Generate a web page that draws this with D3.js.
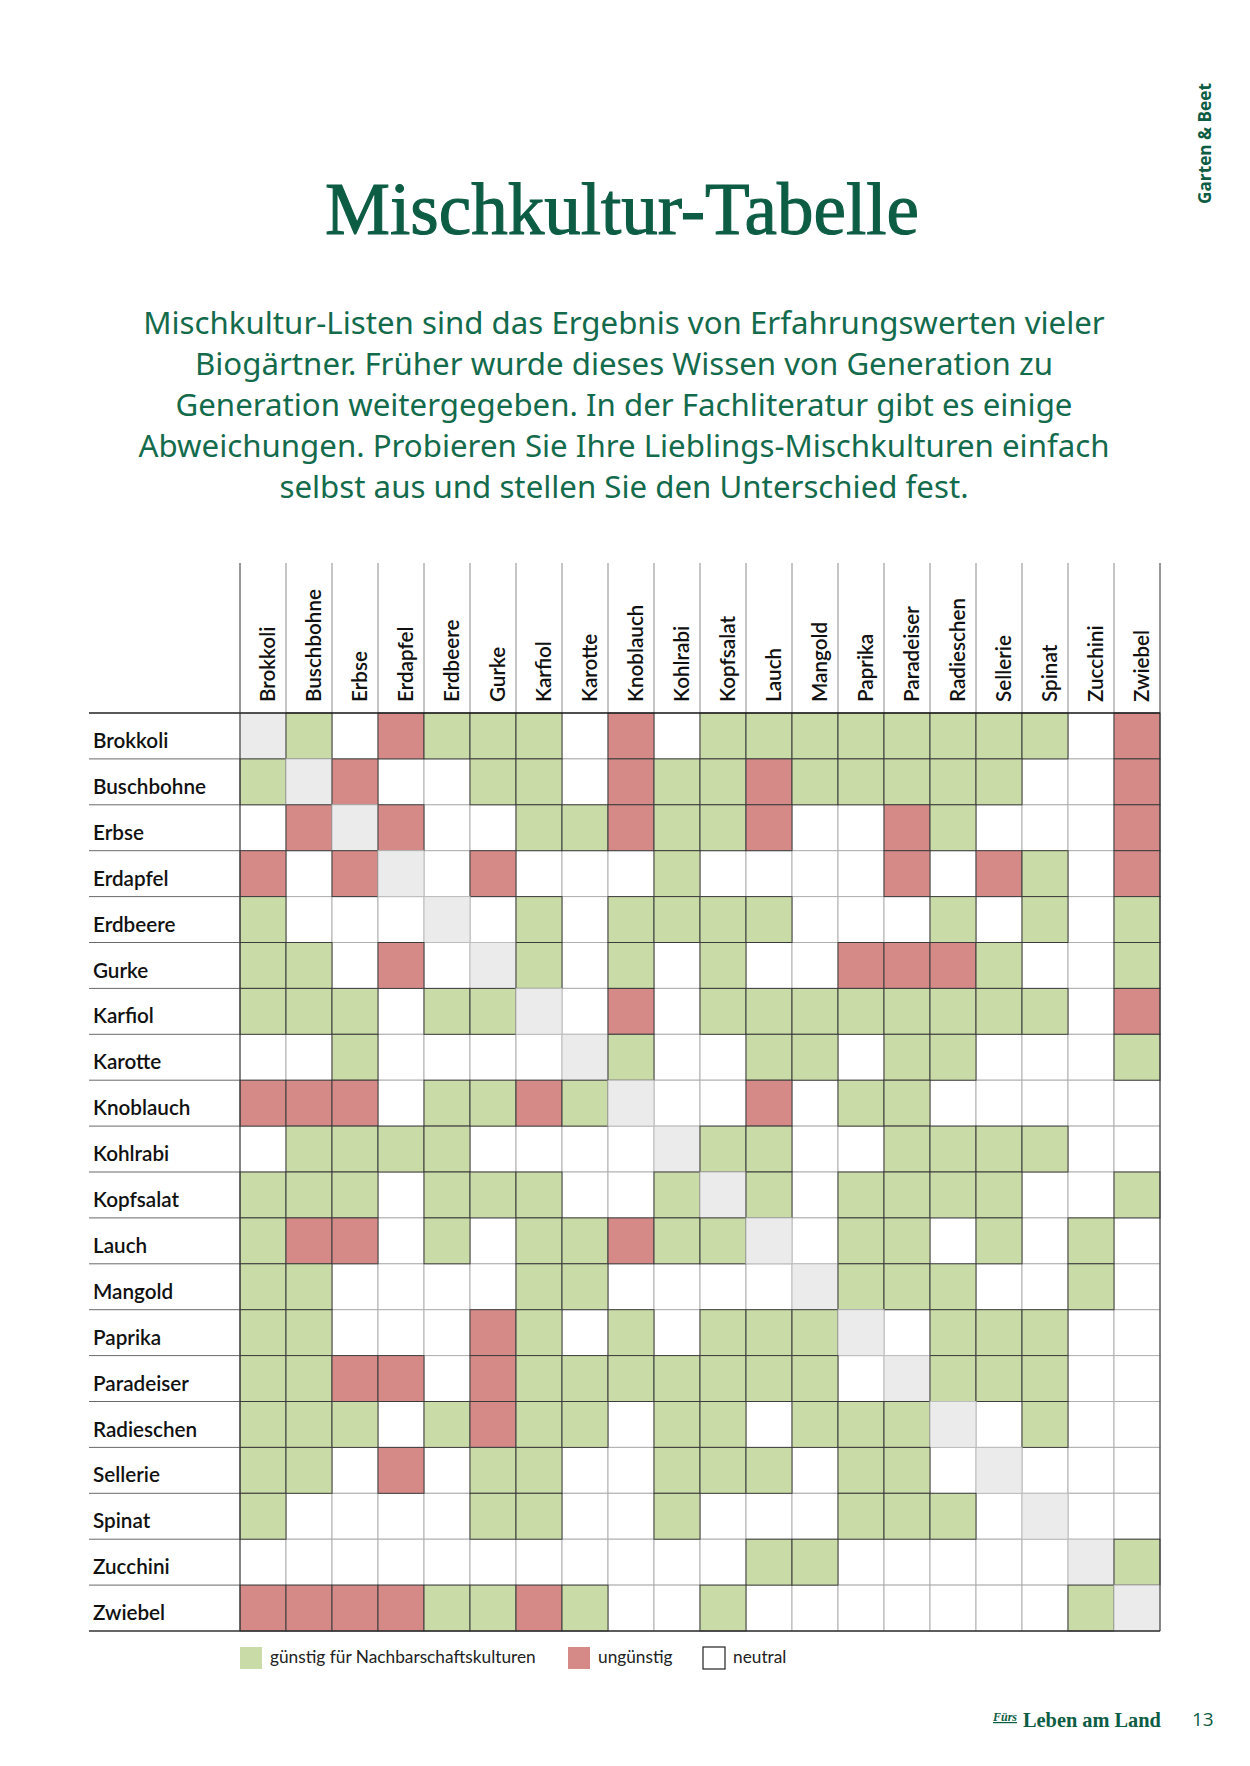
<!DOCTYPE html>
<html>
<head>
<meta charset="utf-8">
<script src="https://cdn.jsdelivr.net/npm/d3@7"></script>
<style>
  html, body { margin: 0; padding: 0; background: #ffffff; }
  svg { display: block; }
</style>
</head>
<body>
<svg id="chart" width="1250" height="1766"></svg>
<script>
// ---------- DATA ----------
const plants = ["Brokkoli","Buschbohne","Erbse","Erdapfel","Erdbeere","Gurke","Karfiol","Karotte","Knoblauch","Kohlrabi","Kopfsalat","Lauch","Mangold","Paprika","Paradeiser","Radieschen","Sellerie","Spinat","Zucchini","Zwiebel"];
// g = günstig, r = ungünstig, n = neutral, d = same plant (diagonal)
const relations = [
  "dgnrgggnrnggggggggnr", // Brokkoli
  "gdrnnggnrggrgggggnnr", // Buschbohne
  "nrdrnnggrggrnnrgnnnr", // Erbse
  "rnrdnrnnngnnnnrnrgnr", // Erdapfel
  "gnnndngnggggnnngngng", // Erdbeere
  "ggnrndgngngnnrrrgnng", // Gurke
  "gggnggdnrnggggggggnr", // Karfiol
  "nngnnnndgnnggnggnnng", // Karotte
  "rrrnggrgdnnrnggnnnnn", // Knoblauch
  "nggggnnnndggnnggggnn", // Kohlrabi
  "gggngggnngdgnggggnng", // Kopfsalat
  "grrngnggrggdnggngngn", // Lauch
  "ggnnnnggnnnndgggnngn", // Mangold
  "ggnnnrgngngggdngggnn", // Paprika
  "ggrrnrgggggggndgggnn", // Paradeiser
  "gggngrggnggngggdngnn", // Radieschen
  "ggnrnggnngggnggndnnn", // Sellerie
  "gnnnnggnngnnngggndnn", // Spinat
  "nnnnnnnnnnnggnnnnndg", // Zucchini
  "rrrrggrgnngnnnnnnngd"  // Zwiebel
];
const legendKeys = ["g","r","n"];
const legendLabels = ["günstig für Nachbarschaftskulturen","ungünstig","neutral"];
const titleText = "Mischkultur-Tabelle";
const introLines = [
  "Mischkultur-Listen sind das Ergebnis von Erfahrungswerten vieler",
  "Biogärtner. Früher wurde dieses Wissen von Generation zu",
  "Generation weitergegeben. In der Fachliteratur gibt es einige",
  "Abweichungen. Probieren Sie Ihre Lieblings-Mischkulturen einfach",
  "selbst aus und stellen Sie den Unterschied fest."
];
const sideLabel = "Garten & Beet";
const footerSmall = "Fürs";
const footerBrand = "Leben am Land";
const pageNumber = "13";

// ---------- STYLE ----------
const GREEN_TXT = "#0d5c44";
const fillOf = {g: "#c9dba6", r: "#d68a87", n: "#ffffff", d: "#ebebeb"};
const SANS = "Lato, 'Noto Sans', sans-serif";
const SERIF = "'Liberation Serif', 'DejaVu Serif', serif";

const svg = d3.select("#chart");

function fitWidth(sel, target) {
  const w = sel.node().getComputedTextLength();
  const fs = parseFloat(sel.attr("font-size"));
  sel.attr("font-size", (fs * target / w).toFixed(2));
  return fs * target / w;
}

// ---------- Title ----------
const title = svg.append("text")
  .attr("x", 622).attr("y", 234)
  .attr("text-anchor", "middle")
  .attr("font-family", SERIF)
  .attr("font-size", 70)
  .attr("fill", GREEN_TXT)
  .attr("stroke", GREEN_TXT).attr("stroke-width", 1.1)
  .text(titleText);
fitWidth(title, 594);

// ---------- Intro ----------
const introBase = [334, 375, 416, 457, 498];
let introSize = 30;
introLines.forEach((line, i) => {
  const t = svg.append("text")
    .attr("x", 624).attr("y", introBase[i])
    .attr("text-anchor", "middle")
    .attr("font-family", "'Noto Sans', sans-serif")
    .attr("font-size", introSize)
    .attr("fill", "#136b4c")
    .text(line);
  if (i === 0) introSize = fitWidth(t, 962);
});

// ---------- Side label ----------
const side = svg.append("text")
  .attr("transform", "translate(1211,204) rotate(-90)")
  .attr("font-family", "'Open Sans', sans-serif")
  .attr("font-weight", 700)
  .attr("font-size", 15)
  .attr("fill", GREEN_TXT)
  .text(sideLabel);
fitWidth(side, 121);

// ---------- Grid ----------
const x = d3.scaleBand().domain(plants).range([240, 1160]);
const y = d3.scaleBand().domain(plants).range([713, 1631]);
const bw = x.bandwidth(), bh = y.bandwidth();

const cells = [];
relations.forEach((row, ri) => {
  row.split("").forEach((c, ci) => cells.push({row: plants[ri], col: plants[ci], v: c}));
});

// header vertical lines
const gHead = svg.append("g");
gHead.selectAll("line.v")
  .data(plants.concat(["__end"]))
  .join("line")
  .attr("x1", (d, i) => i < plants.length ? x(d) : x.range()[1])
  .attr("x2", (d, i) => i < plants.length ? x(d) : x.range()[1])
  .attr("y1", 563).attr("y2", 713)
  .attr("stroke", (d, i) => (i === 0 || i === plants.length) ? "#333" : "#8a8a8a")
  .attr("stroke-width", 1);

// white cells first (light borders), then colored cells (dark borders)
const gCells = svg.append("g");
gCells.selectAll("rect.n")
  .data(cells.filter(d => d.v === "n"))
  .join("rect")
  .attr("x", d => x(d.col)).attr("y", d => y(d.row))
  .attr("width", bw).attr("height", bh)
  .attr("fill", fillOf.n)
  .attr("stroke", "#b0b0b0").attr("stroke-width", 1);
gCells.selectAll("rect.c")
  .data(cells.filter(d => d.v !== "n"))
  .join("rect")
  .attr("x", d => x(d.col)).attr("y", d => y(d.row))
  .attr("width", bw).attr("height", bh)
  .attr("fill", d => fillOf[d.v])
  .attr("stroke", d => d.v === "d" ? "#bdbdbd" : "#3c3c3c")
  .attr("stroke-width", 1);

// row separators across the label column
svg.append("g").selectAll("line")
  .data(plants.slice(1))
  .join("line")
  .attr("x1", 89).attr("x2", 240)
  .attr("y1", d => y(d)).attr("y2", d => y(d))
  .attr("stroke", "#6a6a6a").attr("stroke-width", 1);
// top and bottom rules
svg.append("line").attr("x1", 89).attr("x2", 1160).attr("y1", 713).attr("y2", 713)
  .attr("stroke", "#222").attr("stroke-width", 1.3);
svg.append("line").attr("x1", 89).attr("x2", 1160).attr("y1", 1631).attr("y2", 1631)
  .attr("stroke", "#333").attr("stroke-width", 1.3);
// left & right grid borders
svg.append("line").attr("x1", 240).attr("x2", 240).attr("y1", 713).attr("y2", 1631)
  .attr("stroke", "#333").attr("stroke-width", 1);
svg.append("line").attr("x1", 1160).attr("x2", 1160).attr("y1", 713).attr("y2", 1631)
  .attr("stroke", "#333").attr("stroke-width", 1);

// row labels
const rowLabels = svg.append("g").selectAll("text")
  .data(plants)
  .join("text")
  .attr("x", 93)
  .attr("y", d => y(d) + 35)
  .attr("font-family", SANS)
  .attr("font-weight", 600)
  .attr("font-size", 18)
  .attr("fill", "#111")
  .text(d => d);
const refW = rowLabels.filter(d => d === "Buschbohne").node().getComputedTextLength();
const labelSize = 18 * 113 / refW;
rowLabels.attr("font-size", labelSize.toFixed(2));

// column labels
svg.append("g").selectAll("text")
  .data(plants)
  .join("text")
  .attr("transform", d => `translate(${x(d) + 35},702) rotate(-90)`)
  .attr("font-family", SANS)
  .attr("font-weight", 600)
  .attr("font-size", labelSize.toFixed(2))
  .attr("fill", "#111")
  .text(d => d);

// ---------- Legend ----------
const legendX = [240, 568, 703];
const gLeg = svg.append("g");
let legendSize = 16;
legendKeys.forEach((k, i) => {
  gLeg.append("rect")
    .attr("x", legendX[i]).attr("y", 1647)
    .attr("width", 22).attr("height", 22)
    .attr("fill", fillOf[k])
    .attr("stroke", k === "n" ? "#222" : "none")
    .attr("stroke-width", 1.2);
  const t = gLeg.append("text")
    .attr("x", legendX[i] + 30).attr("y", 1663)
    .attr("font-family", SANS)
    .attr("font-size", legendSize)
    .attr("fill", "#222")
    .text(legendLabels[i]);
  if (i === 0) legendSize = fitWidth(t, 266);
});

// ---------- Footer ----------
svg.append("text")
  .attr("x", 993).attr("y", 1721)
  .attr("font-family", SERIF)
  .attr("font-style", "italic")
  .attr("font-weight", 700)
  .attr("font-size", 12)
  .attr("fill", GREEN_TXT)
  .attr("text-decoration", "underline")
  .text(footerSmall);
const brand = svg.append("text")
  .attr("x", 1023).attr("y", 1727)
  .attr("font-family", SERIF)
  .attr("font-weight", 700)
  .attr("font-size", 20)
  .attr("fill", GREEN_TXT)
  .text(footerBrand);
fitWidth(brand, 138);
svg.append("text")
  .attr("x", 1192).attr("y", 1726)
  .attr("font-family", "'Open Sans', sans-serif")
  .attr("font-size", 19)
  .attr("fill", GREEN_TXT)
  .text(pageNumber);
</script>
</body>
</html>
